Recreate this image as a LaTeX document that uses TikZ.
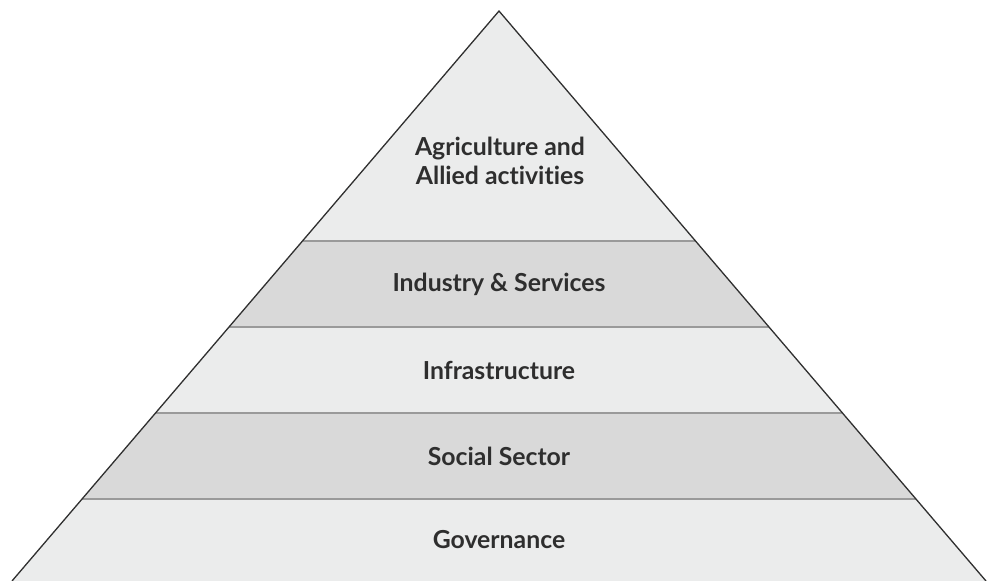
\documentclass[tikz,border=0pt]{standalone}
\usepackage{fontspec}
\setmainfont{Lato}[BoldFont={Lato Bold},Ligatures={NoCommon,NoRare}]
\definecolor{lightband}{HTML}{EBECEC}
\definecolor{darkband}{HTML}{D9D9D9}
\definecolor{edgecol}{HTML}{2F2F2F}
\definecolor{sepcol}{HTML}{9A9A9A}
\definecolor{txtcol}{HTML}{2E2E2E}
\begin{document}
\begin{tikzpicture}[x=1pt,y=-1pt,
  lbl/.style={text=txtcol,font=\fontsize{24.8}{29.5}\selectfont\bfseries,align=center,inner sep=0pt},
  sep/.style={draw=sepcol,line width=1.5pt},
  outline/.style={draw=edgecol,line width=1.3pt,line join=miter}]
\useasboundingbox (0,0) rectangle (989,581);
\coordinate (apex) at (499,11);
\coordinate (l1) at (302.5,241); \coordinate (r1) at (695.5,241);
\coordinate (l2) at (229,327);   \coordinate (r2) at (769,327);
\coordinate (l3) at (155.5,413); \coordinate (r3) at (842.5,413);
\coordinate (l4) at (82.1,499);  \coordinate (r4) at (915.9,499);
\coordinate (l5) at (12,581);    \coordinate (r5) at (986,581);
\fill[lightband] (apex) -- (r1) -- (l1) -- cycle;
\fill[darkband] (l1) -- (r1) -- (r2) -- (l2) -- cycle;
\fill[lightband] (l2) -- (r2) -- (r3) -- (l3) -- cycle;
\fill[darkband] (l3) -- (r3) -- (r4) -- (l4) -- cycle;
\fill[lightband] (l4) -- (r4) -- (r5) -- (l5) -- cycle;
\draw[sep] (l1) -- (r1);
\draw[sep] (l2) -- (r2);
\draw[sep] (l3) -- (r3);
\draw[sep] (l4) -- (r4);
\draw[outline] (l5) -- (apex) -- (r5);
\node[lbl] (agri) at (500,161) {Agriculture and\\Allied activities};
\node[lbl] (ind) at (499,284) {Industry \& Services};
\node[lbl] (infra) at (499,370) {Infrastructure};
\node[lbl] (soc) at (499,456) {Social Sector};
\node[lbl] (gov) at (499,540) {Governance};
\end{tikzpicture}
\end{document}
